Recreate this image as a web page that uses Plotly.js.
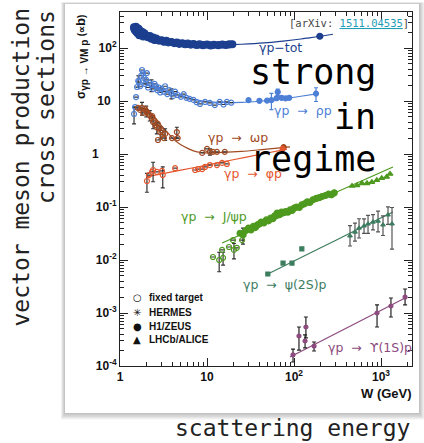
<!DOCTYPE html>
<html><head><meta charset="utf-8">
<script src="https://cdn.plot.ly/plotly-3.0.1.min.js"></script>
<style>html,body{margin:0;padding:0;background:#fff}#chart{width:424px;height:443px}</style>
</head><body><div id="chart"></div>
<script>
// ---- data (W in GeV, sigma in microbarn) ----
const totW = [1.45,1.47,1.5,1.52,1.55,1.58,1.6,1.63,1.67,1.7,1.75,1.8,1.85,1.9,2.0,2.1,2.2,2.3,2.4,2.5,2.6,2.8,3.0,3.2,3.4,3.6,3.9,4.2,4.5,4.8,5.2,5.6,6.0,6.5,7.0,7.6,8.2,9.0,10,11,12,13.5,15,16.5,18,19.5];
const totS = [245,225,215,250,200,235,190,230,175,210,185,200,165,190,172,160,168,150,158,142,150,138,140,132,136,128,130,124,127,120,123,118,121,116,119,114,117,113,116,112,115,113,116,114,117,118];
const totHW = [198];
const totHS = [167];
const totLineW = [3,4,6,8,10,15,20,30,50,80,120,150,200,280];
const totLineS = [140,128,119,115,114,114,116,120,127,137,148,156,167,182];

const rhoW = [1.45,1.49,1.53,1.57,1.62,1.65,1.7,1.75,1.79,1.84,1.89,1.95,2.0,2.04,2.1,2.2,2.3,2.4,2.5,2.6,2.7,2.8,2.9,3.0,3.2,3.3,3.5,3.7,3.9,4.1,4.3,4.6,5.0,5.4,5.8,6.3,7.0,7.6,8.3,9.5,10.8,12.3,14,15.5,16.9,19];
const rhoS = [5.7,7.7,11.9,18.4,24,22.8,19,30,38.5,33.7,27.2,21,25,33.7,18,22,20,17,21,19,16,18,14.5,17,15,19,13.5,16,14,12.5,15,13,12,13.5,11.5,11,10.5,9.5,8.8,9.6,9.2,8.4,9.6,8.6,9.6,9.3];
const rhoErr = [2,0,0,0,6,0,0,0,0,0,0,0,0,0,0,0,5,0,0,0,0,0,0,0,0,0,0,0,3,0,0,0,0,0,0,0,0,0,0,0,0,0,0,0,0,0];
const rhoHW = [30,40,49,55,63,65,72,80,88,179];
const rhoHS = [10.4,10.1,10.2,10.4,11.3,14.8,11.5,11.2,11.5,13.8];
const rhoHErr = [0,0,0,3.5,0,2,0,0,0,4];
const rhoLineW = [1.8,2.5,3.5,5,7,10,15,25,40,70,120,190];
const rhoLineS = [22,18,15,12.5,10.8,9.8,9.4,9.4,9.9,10.9,12.3,13.8];

const omW = [1.61,1.7,1.79,1.85,1.94,2.0,2.04,2.1,2.2,2.3,2.35,2.4,2.45,2.55,2.65,2.72,2.73,2.8,2.9,3.0,3.1,3.2,3.3,3.96,4.5,4.6,8.8,10,10.8,11.7,13,16];
const omS = [7.4,6.8,7.4,6.0,7.1,6.5,6.2,5.8,5.4,4.8,5.2,4.0,4.2,3.5,3.2,3.7,1.84,3.1,2.6,2.8,2.3,2.0,2.4,2.0,2.6,2.0,1.05,1.25,1.1,1.1,1.1,1.1];
const omErr = [0,0,2,0,0,1.5,0,0,1.2,0,0,1,0,0,0.8,0,0,0,0.7,0,0,0,0.6,0,0.6,0,0,0,0.15,0,0,0];
const omHW = [76];
const omHS = [1.35];
const omLineW = [1.6,2,2.5,3,3.5,4,5,6,7,8.5,10,15,25,40,60,90];
const omLineS = [8,6.8,5,3.4,2.6,2.0,1.5,1.28,1.15,1.07,1.05,1.07,1.12,1.2,1.28,1.36];

const phiW = [2.04,2.15,2.33,2.4,2.66,3.04,3.1,4.3,7.3,7.9,8.8,9.5,10.8,13,14.9,16.9];
const phiS = [0.31,0.40,0.46,0.50,0.46,0.48,0.40,0.54,0.50,0.52,0.52,0.57,0.62,0.62,0.68,0.65];
const phiErr = [0.12,0,0,0.2,0,0,0.17,0,0,0,0,0,0,0,0,0];
const phiHW = [74];
const phiHS = [1.25];
const phiLineW = [2,5,10,20,40,83];
const phiLineS = [0.37,0.495,0.62,0.78,0.98,1.24];

const jpsiFW = [11.7,13.8,14.9,15.3,17.9,19.9,20.4,22,25.3,25.9];
const jpsiFS = [0.0114,0.0100,0.0155,0.0110,0.0176,0.0237,0.0155,0.0170,0.0237,0.030];
const jpsiFErr = [0,0.004,0,0.003,0,0,0.005,0,0,0.01];
const jpsiHW = [24,26,28,30,32,34,36,38,40,42,45,48,51,54,57,60,64,68,72,76,80,85,90,95,100,107,115,123,132,142,152,165,180,195,210,230,250,270,290];
const jpsiHS = [0.032,0.030,0.036,0.040,0.037,0.043,0.041,0.046,0.048,0.052,0.050,0.057,0.055,0.062,0.060,0.068,0.077,0.072,0.080,0.078,0.082,0.080,0.088,0.086,0.095,0.100,0.098,0.110,0.115,0.125,0.122,0.137,0.145,0.150,0.158,0.165,0.175,0.170,0.185];
const jpsiLW = [464,530,604,690,785,895,1020,1160,1270];
const jpsiLS = [0.249,0.256,0.28,0.28,0.295,0.32,0.35,0.37,0.42];
const jpsiLineW = [14.9,1370];
const jpsiLineS = [0.021,0.57];

const psiHW = [50,74.8,94.8,123];
const psiHS = [0.00545,0.00877,0.00877,0.0162];
const psiLW = [440,502,559,638,709,809,924,1054,1203,1337];
const psiLS = [0.0284,0.0337,0.040,0.0438,0.0478,0.052,0.054,0.046,0.071,0.048];
const psiLErrP = [0.016,0.016,0.020,0.016,0.022,0.020,0.030,0.022,0.030,0.050];
const psiLErrM = [0.010,0.011,0.014,0.012,0.016,0.015,0.020,0.017,0.024,0.032];
const psiLineW = [50,200,500,1370];
const psiLineS = [0.00545,0.0168,0.0356,0.0805];

const upsW = [97.4,114,134,137,170,900,1300,1890];
const upsS = [1.62e-4,3.68e-4,2.96e-4,5.45e-4,2.38e-4,1.0e-3,1.355e-3,2.0e-3];
const upsErrP = [0.47e-4,1.77e-4,0.89e-4,2.95e-4,0.46e-4,0.42e-3,0.565e-3,0.84e-3];
const upsErrM = [0.43e-4,1.68e-4,0.77e-4,2.05e-4,0.46e-4,0.455e-3,0.515e-3,0.58e-3];
const upsLineW = [90,1990];
const upsLineS = [1.48e-4,2.0e-3];

const xTickVals = [1,10,100,1000];
const xTickText = ['1','10','10<sup>2</sup>','10<sup>3</sup>'];
const yTickVals = [1e-4,1e-3,1e-2,1e-1,1,10,100];
const yTickText = ['10<sup>-4</sup>','10<sup>-3</sup>','10<sup>-2</sup>','10<sup>-1</sup>','1\u2002\u2002\u2002','10\u2002','10<sup>2</sup>'];

const legendSymbols = ['\u25CB','\u2733','\u25CF','\u25B2'];
const legendLabels = ['fixed target','HERMES','H1/ZEUS','LHCb/ALICE'];

// ---- styling ----
const C = {tot:'#1c3f8f', rho:'#4d7fd6', om:'#a04a22', phi:'#e4572e', jpsi:'#4e9a1f', psi:'#3d7d5f', ups:'#8c4a7e'};
const L=120,R=412,T=12,B=366;
const px = x => (x-L)/(R-L);
const py = y => (B-y)/(B-T);

function line(xs, ys, col){ return {x:xs, y:ys, type:'scatter', mode:'lines', line:{color:col, width:1.2, shape:'spline', smoothing:0.8}, hoverinfo:'skip'}; }
function pts(xs, ys, col, sym, size, err, errM, ecol){
  const t = {x:xs, y:ys, type:'scatter', mode:'markers', marker:{color:col, symbol:sym, size:size, line:{color:col, width:1.2}}, hoverinfo:'skip'};
  if (err) t.error_y = {type:'data', array:err, arrayminus: errM || err, visible:true, color: ecol || '#333', thickness:1.2, width:2};
  return t;
}

const traces = [
  line(totLineW, totLineS, C.tot),
  line(rhoLineW, rhoLineS, C.rho),
  line(omLineW, omLineS, C.om),
  line(phiLineW, phiLineS, C.phi),
  line(jpsiLineW, jpsiLineS, C.jpsi),
  line(psiLineW, psiLineS, C.psi),
  line(upsLineW, upsLineS, C.ups),
  pts(totW, totS, C.tot, 'circle', 7),
  pts(totHW, totHS, C.tot, 'circle', 6),
  pts(rhoW, rhoS, C.rho, 'circle-open', 5, rhoErr),
  pts(rhoHW, rhoHS, C.rho, 'circle', 5, rhoHErr, null, C.rho),
  pts(omW, omS, C.om, 'circle-open', 5, omErr),
  pts(omHW, omHS, C.om, 'circle', 5),
  pts(phiW, phiS, C.phi, 'circle-open', 5, phiErr),
  pts(phiHW, phiHS, C.phi, 'circle', 5),
  pts(jpsiFW, jpsiFS, C.jpsi, 'circle-open', 5, jpsiFErr),
  pts(jpsiHW, jpsiHS, C.jpsi, 'circle', 6),
  pts(jpsiLW, jpsiLS, C.jpsi, 'triangle-up', 5),
  pts(psiHW, psiHS, C.psi, 'square', 4),
  pts(psiLW, psiLS, C.psi, 'triangle-up', 4, psiLErrP, psiLErrM, '#555'),
  pts(upsW, upsS, C.ups, 'circle', 4, upsErrP, upsErrM, '#222')
];

function minorVals(lo, hi){ const v=[]; for(let e=lo;e<=hi;e++){ for(let m=2;m<=9;m++) v.push(m*Math.pow(10,e)); } return v; }
const tickFont = {family:'Liberation Sans, Arial, sans-serif', size:12, color:'#111', weight:700};

const shapes = [];
// card shadow
for (let i=5;i>=1;i--){
  shapes.push({type:'rect', xref:'paper', yref:'paper', layer:'below',
    x0:px(65-i*0.8), x1:px(419+i*1.1), y0:py(413+i*1.3), y1:py(4-i*0.4),
    line:{width:0}, fillcolor:'rgba(0,0,0,0.05)'});
}
shapes.push({type:'rect', xref:'paper', yref:'paper', layer:'below', x0:px(65), x1:px(419), y0:py(413), y1:py(4), line:{width:0}, fillcolor:'#ffffff'});

const mono = 'DejaVu Sans Mono, monospace';
const ann = [];
function A(o){ ann.push(Object.assign({xref:'paper', yref:'paper', showarrow:false, borderpad:0}, o)); }

// curve labels
const lblFont = (c)=>({family:'DejaVu Sans, sans-serif', size:12.5, color:c});
A({x:px(258), y:py(47), xanchor:'left', yanchor:'middle', text:'γp−tot', font:lblFont(C.tot)});
A({x:px(273), y:py(110), xanchor:'left', yanchor:'middle', text:'γp  →  ρp', font:lblFont(C.rho)});
A({x:px(207), y:py(137), xanchor:'left', yanchor:'middle', text:'γp  →  ωp', font:lblFont(C.om)});
A({x:px(223), y:py(173), xanchor:'left', yanchor:'middle', text:'γp  →  φp', font:lblFont(C.phi)});
A({x:px(180), y:py(216), xanchor:'left', yanchor:'middle', text:'γp  →  J/ψp', font:lblFont(C.jpsi)});
A({x:px(242), y:py(284), xanchor:'left', yanchor:'middle', text:'γp  →  ψ(2S)p', font:lblFont(C.psi)});
A({x:px(327), y:py(347), xanchor:'left', yanchor:'middle', text:'γp  →  ϒ(1S)p', font:lblFont(C.ups)});

// in-plot legend
const legY = [297,312,326,339];
for (let i=0;i<4;i++){
  A({x:px(137), y:py(legY[i]), xanchor:'center', yanchor:'middle', text:legendSymbols[i], font:{family:'DejaVu Sans, sans-serif', size:10, color:'#111'}});
  A({x:px(148), y:py(legY[i]), xanchor:'left', yanchor:'middle', text:legendLabels[i], font:{family:'Liberation Sans, Arial, sans-serif', size:10, color:'#111', weight:700}});
}

// axis titles
A({x:px(81), y:py(57), xanchor:'center', yanchor:'middle', textangle:-90,
   text:'<span style="font-size:12px">σ</span><sub><span style="font-size:10px">γp → VM p</span></sub> <span style="font-size:10px">(∝</span><span style="font-size:13px">b</span><span style="font-size:10px">)</span>',
   font:{family:'Liberation Sans, Arial, sans-serif', size:12, color:'#111', weight:700}});
A({x:px(413), y:py(393), xanchor:'right', yanchor:'middle', text:'W (GeV)', font:{family:'Liberation Sans, Arial, sans-serif', size:13, color:'#111', weight:700}});

// arXiv reference
A({x:px(410), y:py(23), xanchor:'right', yanchor:'middle', text:'[arXiv: <span style="color:#1e9db5"><u>1511.04535</u></span>]', font:{family:mono, size:10.5, color:'#444'}});

// overlay words
A({x:px(377), y:py(72), xanchor:'right', yanchor:'middle', text:'strong', font:{family:mono, size:35, color:'#000'}});
A({x:px(377), y:py(117), xanchor:'right', yanchor:'middle', text:'in', font:{family:mono, size:35, color:'#000'}});
A({x:px(377), y:py(159), xanchor:'right', yanchor:'middle', text:'regime', font:{family:mono, size:35, color:'#000'}});

// outer labels
A({x:px(20), y:py(7), xanchor:'center', yanchor:'top', textangle:-90, text:'vector meson production', font:{family:mono, size:23, color:'#222'}});
A({x:px(46), y:py(9), xanchor:'center', yanchor:'top', textangle:-90, text:'cross sections', font:{family:mono, size:23, color:'#222'}});
A({x:px(411), y:py(428), xanchor:'right', yanchor:'middle', text:'scattering energy', font:{family:mono, size:23, color:'#222'}});

const axisCommon = {type:'log', showline:true, linecolor:'#222', linewidth:1, mirror:'allticks', ticks:'inside', ticklen:8, tickwidth:1, tickcolor:'#222', showgrid:false, zeroline:false, tickmode:'array', tickfont:tickFont, fixedrange:true};

const layout = {
  width:424, height:443,
  margin:{l:L, r:424-R, t:T, b:443-B},
  paper_bgcolor:'#ffffff', plot_bgcolor:'rgba(0,0,0,0)',
  showlegend:false,
  xaxis: Object.assign({}, axisCommon, {range:[0, Math.log10(2270)], tickvals:xTickVals, ticktext:xTickText,
    minor:{tickmode:'array', tickvals:minorVals(0,3), ticks:'inside', ticklen:4, tickcolor:'#222', showgrid:false}}),
  yaxis: Object.assign({}, axisCommon, {range:[-4, 2.68], tickvals:yTickVals, ticktext:yTickText,
    minor:{tickmode:'array', tickvals:minorVals(-4,2), ticks:'inside', ticklen:4, tickcolor:'#222', showgrid:false}}),
  shapes: shapes,
  annotations: ann
};

Plotly.newPlot('chart', traces, layout, {displayModeBar:false, staticPlot:true});
</script></body></html>
